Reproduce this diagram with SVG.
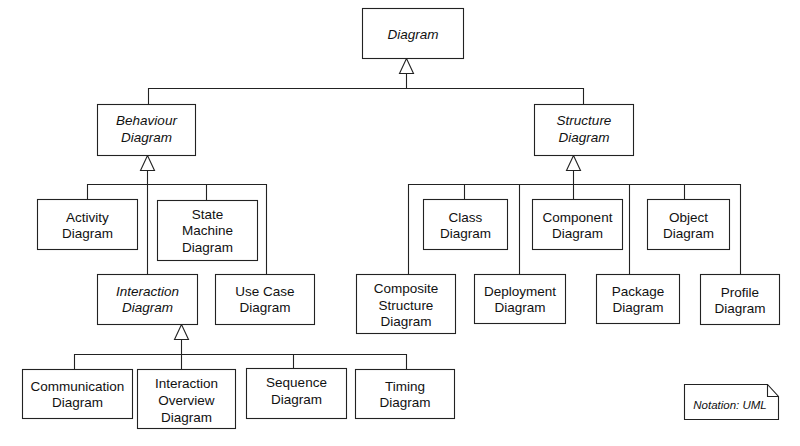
<svg xmlns="http://www.w3.org/2000/svg" width="800" height="446" viewBox="0 0 800 446">
<style>
.box{fill:#fff;stroke:#222;stroke-width:1.1}
.t{font-family:"Liberation Sans",Arial,sans-serif;font-size:13.5px;fill:#111;text-anchor:middle}
.i{font-style:italic}
.ln{fill:none;stroke:#222;stroke-width:1.1}
</style>
<defs>
<marker id="gen" markerUnits="userSpaceOnUse" viewBox="-1 -8 17 16" refX="15" refY="0" markerWidth="17" markerHeight="16" orient="auto" overflow="visible">
<path d="M0,-7 L15,0 L0,7 Z" fill="#fff" stroke="#222" stroke-width="1.1"/>
</marker>
</defs>
<rect width="800" height="446" fill="#fff"/>
<g id="connectors">
<path class="ln" d="M148.5,104 V88.5 H583.5 V104"/>
<path class="ln" d="M87.5,199 V184.5 H266.5 V274 M206.5,184.5 V200"/>
<path class="ln" d="M74.5,369 V354.5 H406.5 V369 M293.5,354.5 V368"/>
<path class="ln" d="M408.5,274 V184.5 H740.5 V274 M464.5,184.5 V199 M519.5,184.5 V274 M629.5,184.5 V274 M684.5,184.5 V199"/>
<path class="ln" d="M406.5,88.5 V58.5" marker-end="url(#gen)"/>
<path class="ln" d="M147.5,274 V155.5" marker-end="url(#gen)"/>
<path class="ln" d="M181.5,369 V324.5" marker-end="url(#gen)"/>
<path class="ln" d="M573.5,199 V155.5" marker-end="url(#gen)"/>
</g>
<g id="diagram"><rect class="box" x="362.5" y="8.5" width="101" height="50"/><text class="t i" x="413" y="39">Diagram</text></g>
<g id="behaviour"><rect class="box" x="97.5" y="104.5" width="98" height="51"/><text class="t i" x="146.5" y="125">Behaviour</text><text class="t i" x="146.5" y="142">Diagram</text></g>
<g id="structure"><rect class="box" x="534.5" y="104.5" width="99" height="51"/><text class="t i" x="584" y="125">Structure</text><text class="t i" x="584" y="142">Diagram</text></g>
<g id="activity"><rect class="box" x="37.5" y="199.5" width="100" height="50"/><text class="t" x="87.5" y="222">Activity</text><text class="t" x="87.5" y="238">Diagram</text></g>
<g id="statemachine"><rect class="box" x="157.5" y="200.5" width="100" height="60"/><text class="t" x="207.5" y="219">State</text><text class="t" x="207.5" y="235">Machine</text><text class="t" x="207.5" y="252">Diagram</text></g>
<g id="interaction"><rect class="box" x="97.5" y="274.5" width="100" height="50"/><text class="t i" x="147.5" y="296">Interaction</text><text class="t i" x="147.5" y="312">Diagram</text></g>
<g id="usecase"><rect class="box" x="215.5" y="274.5" width="99" height="50"/><text class="t" x="265" y="296">Use Case</text><text class="t" x="265" y="312">Diagram</text></g>
<g id="communication"><rect class="box" x="22.5" y="369.5" width="110" height="49"/><text class="t" x="77.5" y="391">Communication</text><text class="t" x="77.5" y="407">Diagram</text></g>
<g id="interactionoverview"><rect class="box" x="137.5" y="369.5" width="98" height="59"/><text class="t" x="186.5" y="388">Interaction</text><text class="t" x="186.5" y="405">Overview</text><text class="t" x="186.5" y="422">Diagram</text></g>
<g id="sequence"><rect class="box" x="246.5" y="368.5" width="100" height="50"/><text class="t" x="296.5" y="387">Sequence</text><text class="t" x="296.5" y="404">Diagram</text></g>
<g id="timing"><rect class="box" x="355.5" y="369.5" width="99" height="49"/><text class="t" x="405" y="391">Timing</text><text class="t" x="405" y="407">Diagram</text></g>
<g id="composite"><rect class="box" x="356.5" y="274.5" width="99" height="59"/><text class="t" x="406" y="293">Composite</text><text class="t" x="406" y="310">Structure</text><text class="t" x="406" y="326">Diagram</text></g>
<g id="class"><rect class="box" x="423.5" y="199.5" width="84" height="50"/><text class="t" x="465.5" y="222">Class</text><text class="t" x="465.5" y="238">Diagram</text></g>
<g id="deployment"><rect class="box" x="474.5" y="274.5" width="91" height="49"/><text class="t" x="520" y="296">Deployment</text><text class="t" x="520" y="312">Diagram</text></g>
<g id="component"><rect class="box" x="532.5" y="199.5" width="90" height="50"/><text class="t" x="577.5" y="222">Component</text><text class="t" x="577.5" y="238">Diagram</text></g>
<g id="package"><rect class="box" x="596.5" y="274.5" width="83" height="49"/><text class="t" x="638" y="296">Package</text><text class="t" x="638" y="312">Diagram</text></g>
<g id="object"><rect class="box" x="647.5" y="199.5" width="82" height="50"/><text class="t" x="688.5" y="222">Object</text><text class="t" x="688.5" y="238">Diagram</text></g>
<g id="profile"><rect class="box" x="700.5" y="274.5" width="79" height="50"/><text class="t" x="740" y="297">Profile</text><text class="t" x="740" y="313">Diagram</text></g>
<g id="note"><path class="box" d="M684.5,384.5 H767.5 L778.5,396.5 V419.5 H684.5 Z"/><path class="ln" d="M767.5,384.5 V396.5 H778.5"/><text class="t i" x="730" y="409" style="font-size:11.5px">Notation: UML</text></g>
</svg>
